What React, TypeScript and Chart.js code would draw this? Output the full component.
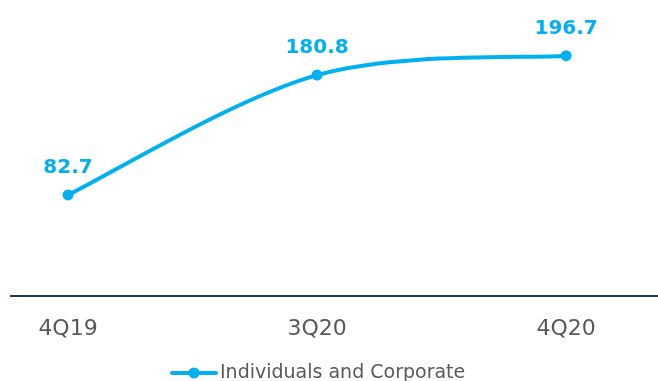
import React, { useEffect, useRef } from "react";
import { Chart, registerables } from "chart.js";

Chart.register(...registerables);

const categories = ["4Q19", "3Q20", "4Q20"];
const seriesName = "Individuals and Corporate";
const seriesValues = [82.7, 180.8, 196.7];
const valueLabels = ["82.7", "180.8", "196.7"];

const CYAN = "#00B0F0";
const GRAY = "#595959";
const FONT = "'DejaVu Sans', Verdana, sans-serif";

// Spreadsheet-style smoothed line: control points at P ± (next - prev) / 6,
// with the end points using themselves as their missing neighbour.
// Only adjusts the control points of the library's own line element.
const smoothPlugin = {
  id: "smoothLine",
  beforeDatasetsDraw(chart: any) {
    const meta = chart.getDatasetMeta(0);
    const line = meta.dataset;
    if (!line) return;
    line.updateControlPoints(chart.chartArea, "x");
    const pts = meta.data;
    const n = pts.length;
    for (let i = 0; i < n; i++) {
      const p = pts[i];
      const prev = pts[Math.max(0, i - 1)];
      const next = pts[Math.min(n - 1, i + 1)];
      const vx = (next.x - prev.x) / 6;
      const vy = (next.y - prev.y) / 6;
      p.cp1x = p.x - vx;
      p.cp1y = p.y - vy;
      p.cp2x = p.x + vx;
      p.cp2y = p.y + vy;
    }
    line._path = undefined;
  },
};

const dataLabelPlugin = {
  id: "dataLabels",
  afterDatasetsDraw(chart: any) {
    const ctx = chart.ctx;
    const meta = chart.getDatasetMeta(0);
    ctx.save();
    ctx.font = `bold 20px ${FONT}`;
    ctx.fillStyle = CYAN;
    ctx.textAlign = "center";
    ctx.textBaseline = "middle";
    meta.data.forEach((pt: any, i: number) => {
      ctx.fillText(valueLabels[i], pt.x, pt.y - 27);
    });
    ctx.restore();
  },
};

const legendPlugin = {
  id: "customLegend",
  afterDraw(chart: any) {
    const ctx = chart.ctx;
    const ds = chart.data.datasets[0];
    const y = 373;
    const x0 = 172;
    ctx.save();
    ctx.strokeStyle = ds.borderColor;
    ctx.lineWidth = 4;
    ctx.lineCap = "round";
    ctx.beginPath();
    ctx.moveTo(x0, y);
    ctx.lineTo(x0 + 44, y);
    ctx.stroke();
    ctx.fillStyle = ds.borderColor;
    ctx.beginPath();
    ctx.arc(x0 + 22, y, 5.5, 0, Math.PI * 2);
    ctx.fill();
    ctx.font = `19px ${FONT}`;
    ctx.fillStyle = GRAY;
    ctx.textAlign = "left";
    ctx.textBaseline = "middle";
    ctx.fillText(ds.label, x0 + 48, y);
    ctx.restore();
  },
};

export default function App() {
  const ref = useRef<HTMLCanvasElement | null>(null);
  useEffect(() => {
    if (!ref.current) return;
    const chart = new Chart(ref.current, {
      type: "line",
      data: {
        datasets: [
          {
            label: seriesName,
            data: seriesValues.map((v, i) => ({ x: i, y: v })),
            borderColor: CYAN,
            backgroundColor: CYAN,
            borderWidth: 4,
            pointRadius: 5.5,
            pointBorderWidth: 0,
            pointBackgroundColor: CYAN,
            tension: 0.4,
            fill: false,
            clip: false,
          },
        ],
      },
      options: {
        responsive: false,
        animation: false,
        devicePixelRatio: 1,
        layout: { autoPadding: false, padding: { top: 15, left: 11, right: 0, bottom: 0 } },
        plugins: {
          legend: { display: false },
          tooltip: { enabled: false },
        },
        scales: {
          x: {
            type: "linear",
            min: -0.229,
            max: 2.369,
            afterBuildTicks: (scale: any) => {
              scale.ticks = categories.map((_, i) => ({ value: i }));
            },
            afterFit: (scale: any) => {
              scale.height = 85;
            },
            grid: { display: false, drawTicks: false },
            border: { display: true, color: "#203864", width: 2 },
            ticks: {
              padding: 20,
              color: GRAY,
              font: { family: FONT, size: 22 },
              maxRotation: 0,
              autoSkip: false,
              callback: (v: any) => categories[Math.round(Number(v))] ?? "",
            },
          },
          y: {
            display: false,
            min: 0,
            max: 230,
          },
        },
      },
      plugins: [smoothPlugin, dataLabelPlugin, legendPlugin],
    });
    return () => chart.destroy();
  }, []);
  return (
    <div style={{ position: "fixed", left: 0, top: 0, width: 658, height: 381, background: "#fff" }}>
      <canvas ref={ref} width={658} height={381} style={{ display: "block" }} />
    </div>
  );
}
